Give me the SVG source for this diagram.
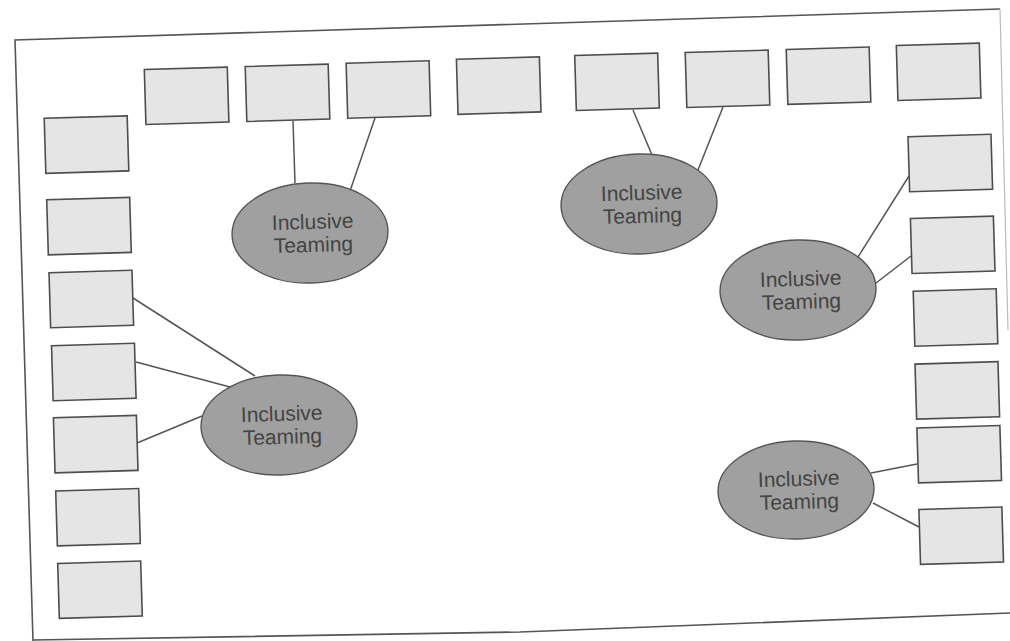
<svg xmlns="http://www.w3.org/2000/svg" width="1010" height="641" viewBox="0 0 1010 641">
  <style>
    .page { fill: none; stroke: #555; stroke-width: 1.6; }
    .page-faint { fill: none; stroke: #bbb; stroke-width: 1.2; }
    .box { fill: #e5e5e5; stroke: #4d4d4d; stroke-width: 1.6; }
    .oval { fill: #a0a0a0; stroke: #555; stroke-width: 1.4; }
    .label { font-family: "Liberation Sans", Arial, sans-serif; font-size: 21px; fill: #444; text-anchor: middle; }
    .link { stroke: #555; stroke-width: 1.5; fill: none; }
  </style>
  <defs>
    <rect id="card" class="box" x="-41.5" y="-27.5" width="83" height="55"/>
  </defs>
  <rect width="1010" height="641" fill="#fff"/>

  <!-- sheet outline -->
  <g id="sheet">
    <polyline class="page" points="1000,9 15,40 33,641"/>
    <polyline class="page" points="33,640 520,632 1010,613"/>
    <line class="page-faint" x1="1000" y1="9" x2="1008" y2="330"/>
  </g>

  <!-- connectors -->
  <g id="connectors">
    <line class="link" x1="293" y1="121" x2="295" y2="183"/>
    <line class="link" x1="375" y1="118" x2="350" y2="191"/>
    <line class="link" x1="633" y1="110" x2="652" y2="155"/>
    <line class="link" x1="723" y1="107" x2="698" y2="170"/>
    <line class="link" x1="909" y1="176" x2="858" y2="257"/>
    <line class="link" x1="911" y1="256" x2="876" y2="283"/>
    <line class="link" x1="133" y1="298" x2="255" y2="376"/>
    <line class="link" x1="136" y1="362" x2="230" y2="387"/>
    <line class="link" x1="137" y1="443" x2="202" y2="416"/>
    <line class="link" x1="917" y1="464" x2="871" y2="473"/>
    <line class="link" x1="919" y1="527" x2="873" y2="503"/>
  </g>

  <!-- top row -->
  <g id="top-1" transform="translate(186.6,95.8) rotate(-1.7)"><use href="#card"/></g>
  <g id="top-2" transform="translate(287.5,92.8) rotate(-1.7)"><use href="#card"/></g>
  <g id="top-3" transform="translate(388.4,89.5) rotate(-1.7)"><use href="#card"/></g>
  <g id="top-4" transform="translate(498.7,85.6) rotate(-1.7)"><use href="#card"/></g>
  <g id="top-5" transform="translate(617,81.8) rotate(-1.7)"><use href="#card"/></g>
  <g id="top-6" transform="translate(727.5,78.8) rotate(-1.7)"><use href="#card"/></g>
  <g id="top-7" transform="translate(828.5,75.7) rotate(-1.7)"><use href="#card"/></g>
  <g id="top-8" transform="translate(938.6,71.8) rotate(-1.7)"><use href="#card"/></g>

  <!-- left column -->
  <g id="left-1" transform="translate(86.5,144.6) rotate(-1.7)"><use href="#card"/></g>
  <g id="left-2" transform="translate(89,226.1) rotate(-1.7)"><use href="#card"/></g>
  <g id="left-3" transform="translate(91.3,299) rotate(-1.7)"><use href="#card"/></g>
  <g id="left-4" transform="translate(93.8,372) rotate(-1.7)"><use href="#card"/></g>
  <g id="left-5" transform="translate(95.7,444.1) rotate(-1.7)"><use href="#card"/></g>
  <g id="left-6" transform="translate(98,517.2) rotate(-1.7)"><use href="#card"/></g>
  <g id="left-7" transform="translate(100,589.7) rotate(-1.7)"><use href="#card"/></g>

  <!-- right column -->
  <g id="right-1" transform="translate(950.3,163) rotate(-1.7)"><use href="#card"/></g>
  <g id="right-2" transform="translate(952.7,244.8) rotate(-1.7)"><use href="#card"/></g>
  <g id="right-3" transform="translate(955.5,317.5) rotate(-1.7)"><use href="#card"/></g>
  <g id="right-4" transform="translate(957.3,390.4) rotate(-1.7)"><use href="#card"/></g>
  <g id="right-5" transform="translate(959.2,454.2) rotate(-1.7)"><use href="#card"/></g>
  <g id="right-6" transform="translate(961.2,535.7) rotate(-1.7)"><use href="#card"/></g>

  <!-- team hubs -->
  <g id="hub-1" transform="translate(310,233) rotate(-1.7)">
    <ellipse class="oval" rx="78" ry="50"/>
    <text class="label" x="3" y="-4">Inclusive</text>
    <text class="label" x="3" y="19">Teaming</text>
  </g>
  <g id="hub-2" transform="translate(639,204) rotate(-1.7)">
    <ellipse class="oval" rx="78" ry="50"/>
    <text class="label" x="3" y="-4">Inclusive</text>
    <text class="label" x="3" y="19">Teaming</text>
  </g>
  <g id="hub-3" transform="translate(798,290) rotate(-1.7)">
    <ellipse class="oval" rx="78" ry="50"/>
    <text class="label" x="3" y="-4">Inclusive</text>
    <text class="label" x="3" y="19">Teaming</text>
  </g>
  <g id="hub-4" transform="translate(279,425) rotate(-1.7)">
    <ellipse class="oval" rx="78" ry="50"/>
    <text class="label" x="3" y="-4">Inclusive</text>
    <text class="label" x="3" y="19">Teaming</text>
  </g>
  <g id="hub-5" transform="translate(796,490) rotate(-1.7)">
    <ellipse class="oval" rx="78" ry="49"/>
    <text class="label" x="3" y="-4">Inclusive</text>
    <text class="label" x="3" y="19">Teaming</text>
  </g>
</svg>
